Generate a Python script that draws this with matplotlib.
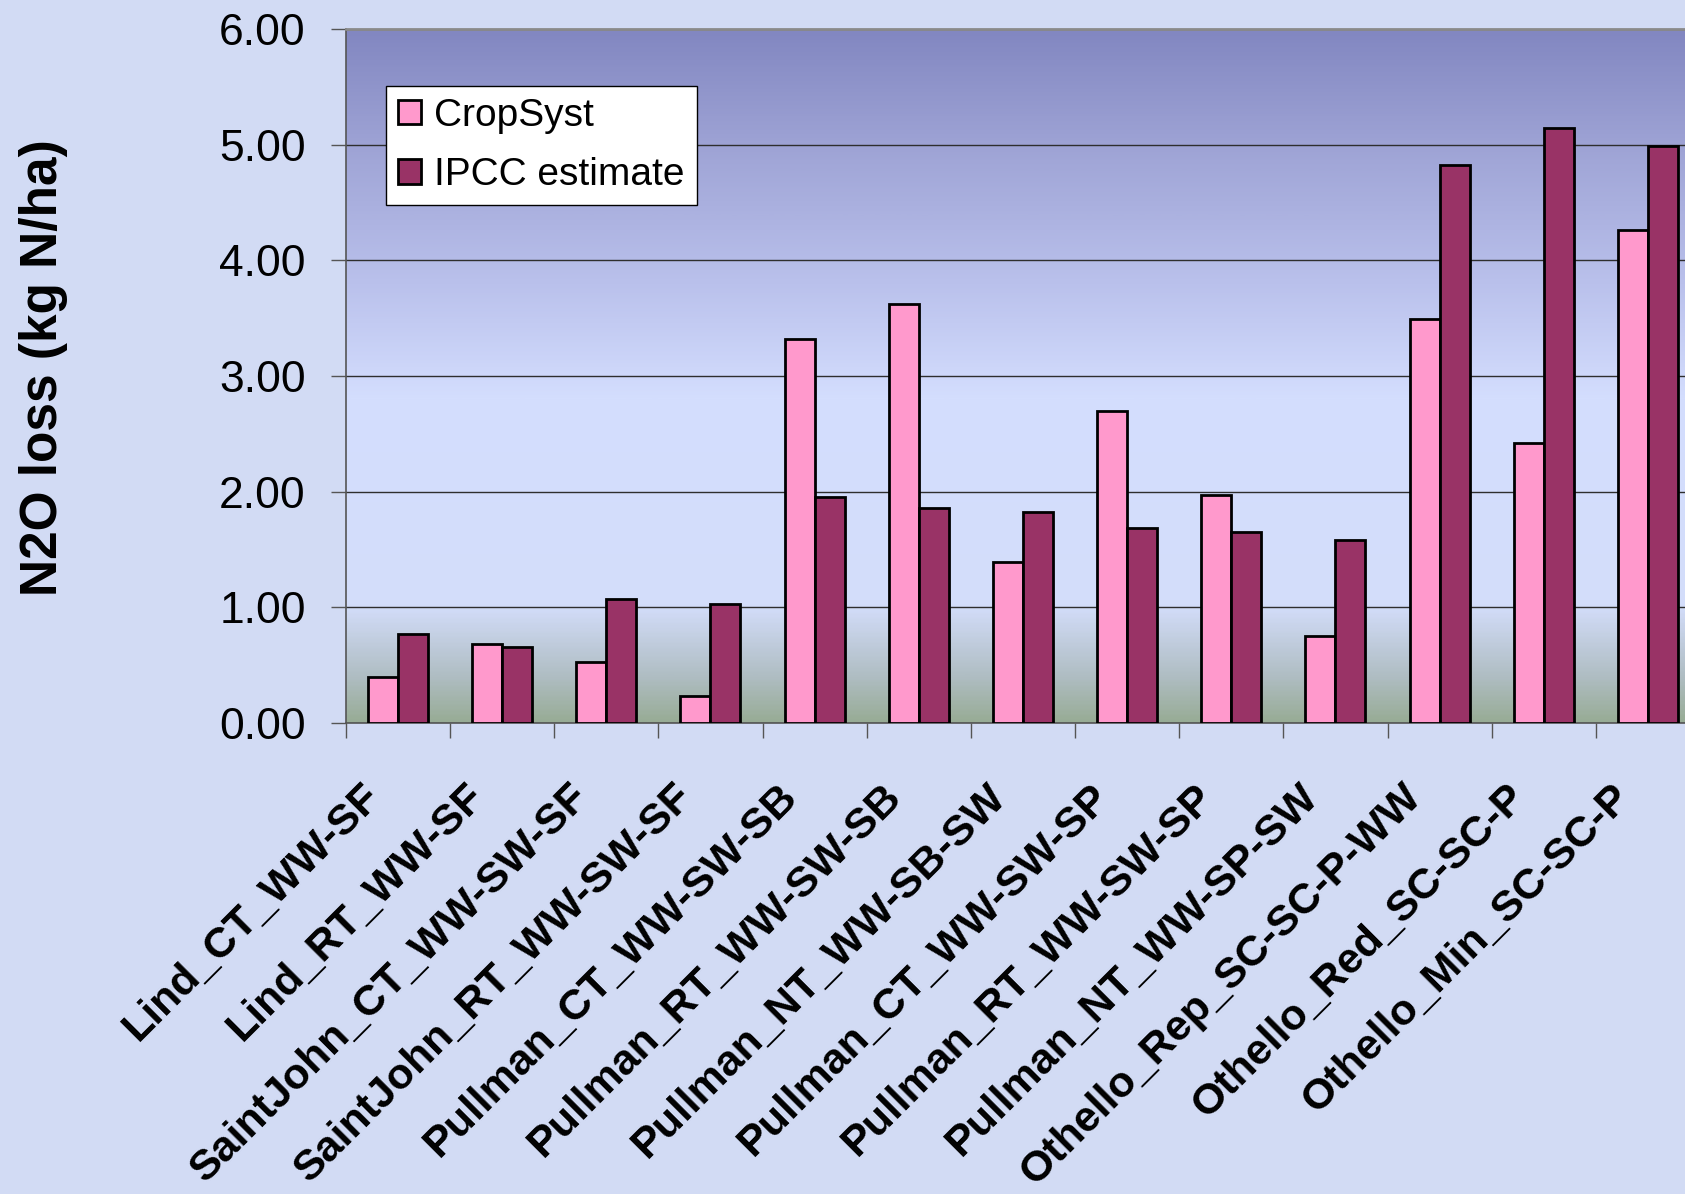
import numpy as np
import matplotlib
matplotlib.use("Agg")
import matplotlib.pyplot as plt
import matplotlib.transforms as mtransforms
from matplotlib.colors import LinearSegmentedColormap

plt.rcParams['font.family'] = ['Liberation Sans', 'DejaVu Sans']

# N2O loss per rotation (kg N/ha)
rotations = [
    'Lind_CT_WW-SF', 'Lind_RT_WW-SF', 'SaintJohn_CT_WW-SW-SF',
    'SaintJohn_RT_WW-SW-SF', 'Pullman_CT_WW-SW-SB', 'Pullman_RT_WW-SW-SB',
    'Pullman_NT_WW-SB-SW', 'Pullman_CT_WW-SW-SP', 'Pullman_RT_WW-SW-SP',
    'Pullman_NT_WW-SP-SW', 'Othello_Rep_SC-SC-P-WW', 'Othello_Red_SC-SC-P',
    'Othello_Min_SC-SC-P',
]
cropsyst = [0.40, 0.68, 0.53, 0.23, 3.32, 3.62, 1.39, 2.70, 1.97, 0.75, 3.49, 2.42, 4.26]
ipcc = [0.77, 0.66, 1.07, 1.03, 1.95, 1.86, 1.82, 1.69, 1.65, 1.58, 4.82, 5.14, 4.99]
yticks = [0.0, 1.0, 2.0, 3.0, 4.0, 5.0, 6.0]

PINK = '#FF99CC'
PLUM = '#993366'
PAGE = '#D2DBF4'

fig = plt.figure(figsize=(16.85, 11.94), dpi=100, facecolor=PAGE)
ax = fig.add_axes([0.2053, 0.3945, 0.8036, 0.5812])

n = len(rotations)
x = np.arange(n) + 0.5
w = 0.288

# plot area fill: slate-blue at the top, pale band in the middle, grey-green floor
stops = [(0.0, (152, 172, 150)), (0.4 / 6, (176, 190, 196)), (1.0 / 6, (211, 221, 250)),
         (2.8 / 6, (212, 222, 254)), (3.8 / 6, (186, 193, 236)), (5.0 / 6, (158, 163, 213)),
         (1.0, (130, 135, 193))]
cmap = LinearSegmentedColormap.from_list(
    'plotarea', [(p, tuple(c / 255 for c in rgb)) for p, rgb in stops])
grad = np.linspace(0, 1, 400).reshape(-1, 1)
ax.imshow(grad, cmap=cmap, origin='lower', extent=[0, n, 0, 6],
          aspect='auto', zorder=0, interpolation='bilinear')

ax.bar(x - w / 2, cropsyst, w, color=PINK, edgecolor='black', linewidth=2,
       label='CropSyst', zorder=3)
ax.bar(x + w / 2, ipcc, w, color=PLUM, edgecolor='black', linewidth=2,
       label='IPCC estimate', zorder=3)

ax.set_xlim(0, n)
ax.set_ylim(0, 6)
ax.set_yticks(yticks)
ax.set_yticklabels([f'{v:.2f}' for v in yticks])
ax.yaxis.grid(True, color='#2e2e2e', linewidth=1.0, zorder=1)
ax.set_axisbelow(True)
ax.tick_params(axis='y', direction='out', length=11, width=1, color='#555555',
               pad=18, labelsize=32)

# category boundaries carry the tick marks, centres carry the labels
ax.set_xticks(np.arange(n + 1))
ax.set_xticklabels([])
ax.tick_params(axis='x', which='major', direction='out', length=11, width=1,
               color='#555555')
ax.set_xticks(x, minor=True)
ax.set_xticklabels(rotations, minor=True, rotation=45, ha='right', va='center',
                   rotation_mode='anchor', fontsize=31, fontweight='bold')
ax.tick_params(axis='x', which='minor', length=0, pad=0)
shift = mtransforms.ScaledTranslation(-0.24, -0.68, fig.dpi_scale_trans)
for lbl in ax.get_xticklabels(minor=True):
    lbl.set_transform(lbl.get_transform() + shift)

for side in ['left', 'bottom']:
    ax.spines[side].set_color('#555555')
    ax.spines[side].set_linewidth(1.2)
ax.spines['top'].set_color('#8a8a8a')
ax.spines['top'].set_linewidth(2)
ax.spines['right'].set_visible(False)

leg = ax.legend(loc='upper left', bbox_to_anchor=(0.0295, 0.918), borderaxespad=0,
                fontsize=28, frameon=True, fancybox=False, framealpha=1,
                edgecolor='black', handlelength=0.6, handleheight=0.6,
                handletextpad=0.35, labelspacing=0.6, borderpad=0.3)
leg.get_frame().set_linewidth(1.0)
leg.set_zorder(5)

fig.text(44 / 1685, 1 - 368 / 1194, 'N2O loss (kg N/ha)', rotation=90,
         ha='center', va='center', fontsize=37, fontweight='bold')

fig.savefig('out.png', dpi=100, facecolor=fig.get_facecolor())
